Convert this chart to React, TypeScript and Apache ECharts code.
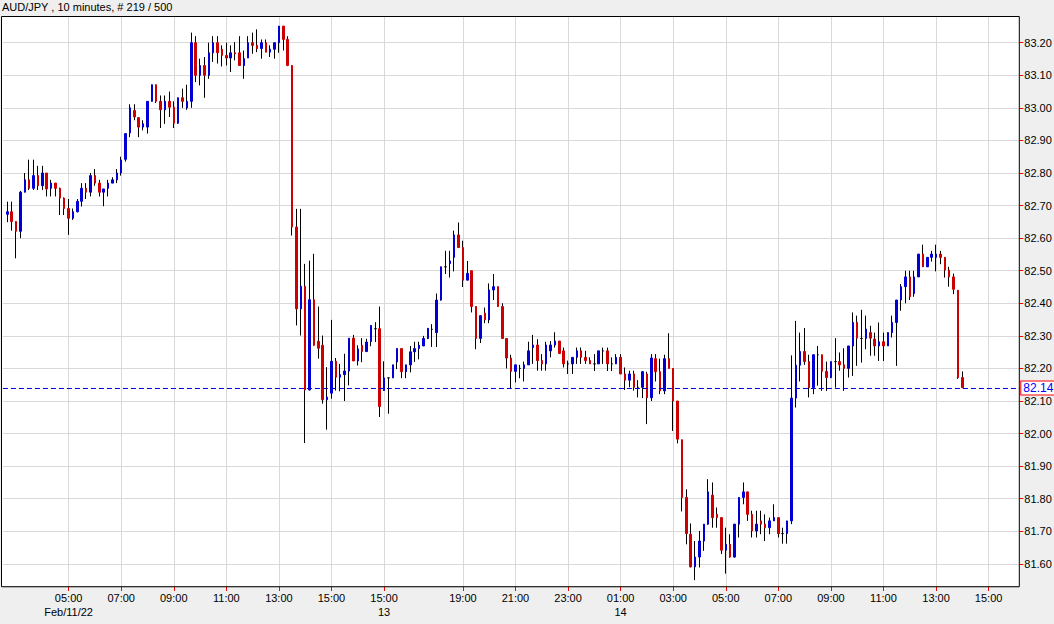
import React, { useEffect, useRef } from "react";
import * as echarts from "echarts";

const chartTitle = "AUD/JPY , 10 minutes, # 219 / 500";
const currentPrice = 82.14;
const totalSlots = 233; // slot 0 is an empty slot before the first bar

// bar offsets (from first bar) that carry a time label
const tickSlots = [14, 26, 38, 50, 62, 74, 86, 104, 116, 128, 140, 152, 164, 176, 188, 200, 212, 224];
const tickTimes = ["05:00", "07:00", "09:00", "11:00", "13:00", "15:00", "15:00", "19:00", "21:00", "23:00", "01:00", "03:00", "05:00", "07:00", "09:00", "11:00", "13:00", "15:00"];
const tickDates = ["Feb/11/22", "", "", "", "", "", "13", "", "", "", "14", "", "", "", "", "", "", ""];

// [open, close, low, high]
const feb11Bars: number[][] = [
  [82.673, 82.681, 82.649, 82.712], [82.681, 82.651, 82.623, 82.712], [82.651, 82.621, 82.538, 82.651],
  [82.621, 82.741, 82.600, 82.745], [82.741, 82.779, 82.741, 82.800], [82.779, 82.753, 82.748, 82.841],
  [82.753, 82.792, 82.748, 82.841], [82.792, 82.761, 82.748, 82.822], [82.761, 82.800, 82.748, 82.822],
  [82.800, 82.751, 82.728, 82.800], [82.753, 82.769, 82.728, 82.779], [82.769, 82.753, 82.728, 82.769],
  [82.753, 82.723, 82.671, 82.755], [82.723, 82.691, 82.671, 82.725], [82.691, 82.661, 82.610, 82.720],
  [82.661, 82.681, 82.656, 82.691], [82.681, 82.713, 82.679, 82.720], [82.713, 82.753, 82.697, 82.769],
  [82.753, 82.741, 82.720, 82.769], [82.741, 82.792, 82.728, 82.800], [82.792, 82.769, 82.761, 82.812],
  [82.769, 82.741, 82.728, 82.779], [82.741, 82.751, 82.698, 82.751], [82.753, 82.769, 82.728, 82.779],
  [82.769, 82.779, 82.769, 82.787], [82.779, 82.800, 82.769, 82.812], [82.800, 82.840, 82.792, 82.850],
  [82.842, 82.921, 82.835, 82.921], [82.923, 83.000, 82.910, 83.011], [82.992, 82.972, 82.962, 83.011],
  [82.970, 82.941, 82.910, 82.970], [82.941, 82.951, 82.931, 82.962], [82.941, 83.020, 82.921, 83.020],
  [83.020, 83.071, 83.020, 83.071], [83.071, 83.020, 83.015, 83.071], [83.020, 82.994, 82.938, 83.038],
  [82.994, 83.020, 82.951, 83.038], [83.020, 83.002, 82.972, 83.050], [83.002, 82.953, 82.938, 83.020],
  [82.953, 83.031, 82.951, 83.031], [83.031, 83.020, 83.000, 83.059], [83.000, 83.020, 82.994, 83.071],
  [83.020, 83.200, 83.000, 83.231], [83.200, 83.100, 83.079, 83.220], [83.100, 83.130, 83.069, 83.151],
  [83.130, 83.100, 83.031, 83.156], [83.100, 83.169, 83.089, 83.200], [83.169, 83.200, 83.141, 83.220],
  [83.200, 83.169, 83.136, 83.220], [83.180, 83.161, 83.127, 83.192], [83.161, 83.153, 83.130, 83.200],
  [83.153, 83.169, 83.110, 83.192], [83.169, 83.166, 83.146, 83.202], [83.169, 83.130, 83.130, 83.220],
  [83.130, 83.151, 83.089, 83.176], [83.153, 83.200, 83.153, 83.220], [83.200, 83.192, 83.166, 83.231],
  [83.192, 83.182, 83.171, 83.241], [83.182, 83.200, 83.151, 83.210], [83.200, 83.171, 83.171, 83.210],
  [83.171, 83.180, 83.156, 83.192], [83.180, 83.200, 83.151, 83.200], [83.200, 83.251, 83.169, 83.251],
  [83.251, 83.210, 83.176, 83.251], [83.210, 83.130, 83.128, 83.220], [83.130, 82.634, 82.608, 83.130],
  [82.634, 82.383, 82.332, 82.690], [82.383, 82.452, 82.301, 82.690], [82.452, 82.134, 81.971, 82.521],
  [82.134, 82.411, 82.132, 82.531], [82.411, 82.271, 82.270, 82.552], [82.283, 82.262, 82.230, 82.390],
  [82.271, 82.104, 82.092, 82.301], [82.104, 82.112, 82.012, 82.204], [82.124, 82.222, 82.107, 82.349],
  [82.222, 82.173, 82.132, 82.232], [82.173, 82.181, 82.130, 82.214], [82.181, 82.192, 82.100, 82.245],
  [82.192, 82.293, 82.148, 82.293], [82.293, 82.223, 82.223, 82.303], [82.223, 82.260, 82.209, 82.271],
  [82.271, 82.252, 82.219, 82.293], [82.252, 82.281, 82.250, 82.291], [82.283, 82.332, 82.268, 82.332],
  [82.322, 82.322, 82.281, 82.342], [82.322, 82.083, 82.051, 82.390],
];

const feb13Bars: number[][] = [
  [82.132, 82.171, 82.132, 82.222], [82.171, 82.171, 82.061, 82.171], [82.171, 82.211, 82.171, 82.211],
  [82.220, 82.261, 82.198, 82.261], [82.261, 82.190, 82.170, 82.261], [82.190, 82.211, 82.170, 82.211],
  [82.211, 82.251, 82.188, 82.269], [82.251, 82.261, 82.220, 82.282], [82.261, 82.271, 82.228, 82.282],
  [82.269, 82.292, 82.269, 82.300], [82.292, 82.323, 82.290, 82.323], [82.320, 82.320, 82.266, 82.336],
  [82.310, 82.410, 82.266, 82.430], [82.410, 82.512, 82.408, 82.512], [82.512, 82.512, 82.490, 82.561],
  [82.522, 82.530, 82.479, 82.561], [82.541, 82.610, 82.498, 82.623], [82.610, 82.571, 82.571, 82.648],
  [82.571, 82.471, 82.450, 82.592], [82.471, 82.492, 82.471, 82.530], [82.500, 82.390, 82.372, 82.500],
  [82.390, 82.292, 82.259, 82.390], [82.292, 82.362, 82.278, 82.362], [82.370, 82.349, 82.339, 82.387],
  [82.349, 82.441, 82.339, 82.461], [82.441, 82.451, 82.410, 82.490], [82.451, 82.390, 82.389, 82.451],
  [82.390, 82.292, 82.292, 82.400], [82.292, 82.232, 82.200, 82.292], [82.232, 82.191, 82.139, 82.242],
  [82.191, 82.211, 82.157, 82.211], [82.200, 82.200, 82.170, 82.211], [82.200, 82.211, 82.160, 82.221],
  [82.211, 82.254, 82.211, 82.282], [82.264, 82.272, 82.214, 82.303], [82.272, 82.224, 82.193, 82.290],
  [82.224, 82.214, 82.193, 82.244], [82.214, 82.272, 82.193, 82.282], [82.254, 82.272, 82.234, 82.284],
  [82.272, 82.284, 82.264, 82.311], [82.284, 82.246, 82.244, 82.284], [82.254, 82.214, 82.203, 82.264],
  [82.214, 82.214, 82.183, 82.224], [82.214, 82.234, 82.183, 82.234], [82.234, 82.254, 82.214, 82.264],
  [82.254, 82.234, 82.214, 82.264], [82.234, 82.224, 82.214, 82.254], [82.224, 82.214, 82.214, 82.234],
  [82.214, 82.214, 82.192, 82.244], [82.214, 82.254, 82.214, 82.254], [82.254, 82.254, 82.214, 82.264],
  [82.254, 82.214, 82.192, 82.264], [82.214, 82.214, 82.192, 82.234], [82.214, 82.234, 82.214, 82.244],
  [82.234, 82.183, 82.183, 82.244], [82.183, 82.164, 82.134, 82.203], [82.164, 82.183, 82.142, 82.193],
  [82.183, 82.142, 82.132, 82.193], [82.142, 82.142, 82.111, 82.164], [82.142, 82.190, 82.109, 82.192],
  [82.183, 82.110, 82.029, 82.190], [82.110, 82.232, 82.100, 82.244], [82.230, 82.190, 82.160, 82.244],
  [82.190, 82.131, 82.121, 82.230], [82.131, 82.230, 82.121, 82.242], [82.230, 82.200, 82.200, 82.308],
  [82.200, 82.100, 82.008, 82.200], [82.100, 81.983, 81.970, 82.100], [81.981, 81.804, 81.761, 81.981],
  [81.804, 81.693, 81.660, 81.829], [81.691, 81.591, 81.589, 81.724], [81.591, 81.621, 81.550, 81.670],
  [81.621, 81.670, 81.589, 81.701], [81.670, 81.722, 81.640, 81.722], [81.722, 81.821, 81.720, 81.860],
  [81.811, 81.742, 81.711, 81.850], [81.752, 81.742, 81.711, 81.773], [81.742, 81.642, 81.630, 81.742],
  [81.642, 81.660, 81.570, 81.711], [81.660, 81.621, 81.619, 81.691], [81.621, 81.722, 81.619, 81.722],
  [81.722, 81.804, 81.681, 81.804], [81.804, 81.821, 81.783, 81.850], [81.821, 81.752, 81.732, 81.821],
  [81.752, 81.701, 81.681, 81.763], [81.701, 81.722, 81.681, 81.763], [81.732, 81.722, 81.691, 81.763],
  [81.722, 81.711, 81.670, 81.752], [81.711, 81.732, 81.691, 81.742], [81.732, 81.742, 81.732, 81.783],
  [81.742, 81.693, 81.681, 81.742], [81.693, 81.693, 81.662, 81.711], [81.693, 81.732, 81.662, 81.732],
  [81.732, 82.109, 81.722, 82.240], [82.109, 82.210, 82.080, 82.346], [82.210, 82.252, 82.160, 82.310],
  [82.252, 82.221, 82.211, 82.324], [82.221, 82.141, 82.111, 82.242], [82.141, 82.242, 82.121, 82.242],
  [82.242, 82.242, 82.147, 82.269], [82.242, 82.191, 82.131, 82.242], [82.191, 82.172, 82.131, 82.221],
  [82.172, 82.221, 82.170, 82.221], [82.221, 82.221, 82.141, 82.293], [82.221, 82.211, 82.193, 82.249],
  [82.211, 82.200, 82.131, 82.262], [82.200, 82.269, 82.172, 82.269], [82.269, 82.341, 82.177, 82.372],
  [82.341, 82.293, 82.208, 82.362], [82.292, 82.292, 82.218, 82.380], [82.292, 82.321, 82.259, 82.362],
  [82.310, 82.293, 82.239, 82.331], [82.290, 82.269, 82.239, 82.310], [82.269, 82.282, 82.223, 82.341],
  [82.282, 82.269, 82.223, 82.310], [82.269, 82.310, 82.269, 82.310], [82.310, 82.341, 82.295, 82.362],
  [82.341, 82.410, 82.208, 82.410], [82.410, 82.451, 82.377, 82.459], [82.451, 82.481, 82.400, 82.500],
  [82.481, 82.420, 82.410, 82.500], [82.430, 82.481, 82.420, 82.500], [82.481, 82.551, 82.481, 82.551],
  [82.551, 82.512, 82.512, 82.580], [82.512, 82.541, 82.512, 82.541], [82.541, 82.551, 82.528, 82.561],
  [82.541, 82.551, 82.498, 82.580], [82.551, 82.541, 82.520, 82.561], [82.541, 82.502, 82.479, 82.541],
  [82.502, 82.481, 82.451, 82.512], [82.481, 82.443, 82.428, 82.491], [82.440, 82.172, 82.168, 82.440],
  [82.172, 82.141, 82.141, 82.191],
];

const FONT = "'Liberation Sans', Arial, sans-serif";
const UP = "#0000d4";
const DOWN = "#cc0000";

export default function App() {
  const ref = useRef<HTMLDivElement>(null);

  useEffect(() => {
    if (!ref.current) return;
    const chart = echarts.init(ref.current, null, { renderer: "svg" });

    const bars = [...feb11Bars, ...feb13Bars];
    const wickData = bars.map((b, k) => [k + 1, b[0], b[1], b[2], b[3]]);
    const bodyData = bars.map((b, k) => [k + 1, b[0], b[1], Math.min(b[0], b[1]), Math.max(b[0], b[1])]);

    const labelMap: Record<number, string> = {};
    tickSlots.forEach((s, j) => {
      labelMap[s + 1] = tickDates[j] ? tickTimes[j] + "\n" + tickDates[j] : tickTimes[j];
    });
    const categories = Array.from({ length: totalSlots }, (_, i) => "s" + i);
    const isTick = (i: number) => labelMap[i] !== undefined;

    const plotLeft = 1.5;
    const plotTop = 16.5;
    const plotRight = 1019.3;
    const plotBottom = 586.7;

    chart.setOption({
      animation: false,
      backgroundColor: "#efefef",
      title: {
        text: chartTitle,
        left: 2,
        top: 1,
        padding: 0,
        textStyle: { fontSize: 11, fontWeight: "normal", color: "#000", fontFamily: FONT },
      },
      graphic: [
        {
          type: "rect",
          z: -100,
          silent: true,
          shape: { x: plotLeft, y: plotTop, width: plotRight - plotLeft, height: plotBottom - plotTop },
          style: { fill: "#ffffff" },
        },
        {
          type: "rect",
          z: 100,
          silent: true,
          shape: { x: plotLeft, y: plotTop, width: plotRight - plotLeft, height: plotBottom - plotTop },
          style: { fill: "none", stroke: "#000", lineWidth: 1 },
        },
      ],
      grid: {
        left: 2.89,
        top: 16,
        width: 1016.4,
        height: 571,
        containLabel: false,
        outerBoundsMode: "none",
      },
      xAxis: {
        type: "category",
        data: categories,
        boundaryGap: false,
        axisLine: { show: false },
        axisTick: { show: true, interval: (i: number) => isTick(i), length: 4, lineStyle: { color: "#ff0000" } },
        axisLabel: {
          interval: (i: number) => isTick(i),
          formatter: (_v: string, i: number) => labelMap[i] || "",
          color: "#000",
          fontSize: 11,
          fontFamily: FONT,
          lineHeight: 14,
          margin: 4,
        },
        splitLine: { show: true, interval: (i: number) => isTick(i), lineStyle: { color: "#d9d9d9", width: 1 } },
      },
      yAxis: {
        type: "value",
        position: "right",
        min: 81.529,
        max: 83.282,
        splitNumber: 18,
        minInterval: 0.1,
        maxInterval: 0.1,
        scale: true,
        axisLine: { show: false },
        axisTick: { show: true, length: 4, lineStyle: { color: "#ff0000" } },
        axisLabel: {
          color: "#000",
          fontSize: 11,
          fontFamily: FONT,
          margin: 5,
          showMinLabel: false,
          showMaxLabel: false,
          formatter: (v: number) => v.toFixed(2),
        },
        splitLine: { show: true, lineStyle: { color: "#d9d9d9", width: 1 } },
      },
      series: [
        {
          type: "candlestick",
          name: "wicks",
          data: wickData,
          encode: { x: 0, y: [1, 2, 3, 4] },
          barWidth: 1,
          silent: true,
          z: 2,
          itemStyle: { color: "#000", color0: "#000", borderColor: "#000", borderColor0: "#000", borderColorDoji: "#000", borderWidth: 1 },
        },
        {
          type: "candlestick",
          name: "bodies",
          data: bodyData,
          encode: { x: 0, y: [1, 2, 3, 4] },
          barWidth: 2,
          silent: true,
          z: 3,
          itemStyle: { color: UP, color0: DOWN, borderColor: UP, borderColor0: DOWN, borderColorDoji: "#000", borderWidth: 1 },
          markLine: {
            silent: true,
            symbol: ["none", "none"],
            animation: false,
            data: [{ yAxis: currentPrice }],
            lineStyle: { color: "#0000dd", type: [5, 3], width: 1 },
            label: {
              show: true,
              position: "end",
              distance: 2,
              formatter: currentPrice.toFixed(2),
              color: "#0000ff",
              backgroundColor: "#ffffff",
              borderColor: "#ff0000",
              borderWidth: 1,
              padding: [1, 3, 0, 2],
              fontSize: 12,
              fontFamily: FONT,
            },
          },
        },
      ],
    });

    return () => chart.dispose();
  }, []);

  return <div ref={ref} style={{ position: "absolute", left: 0, top: 0, width: 1054, height: 624 }} />;
}
